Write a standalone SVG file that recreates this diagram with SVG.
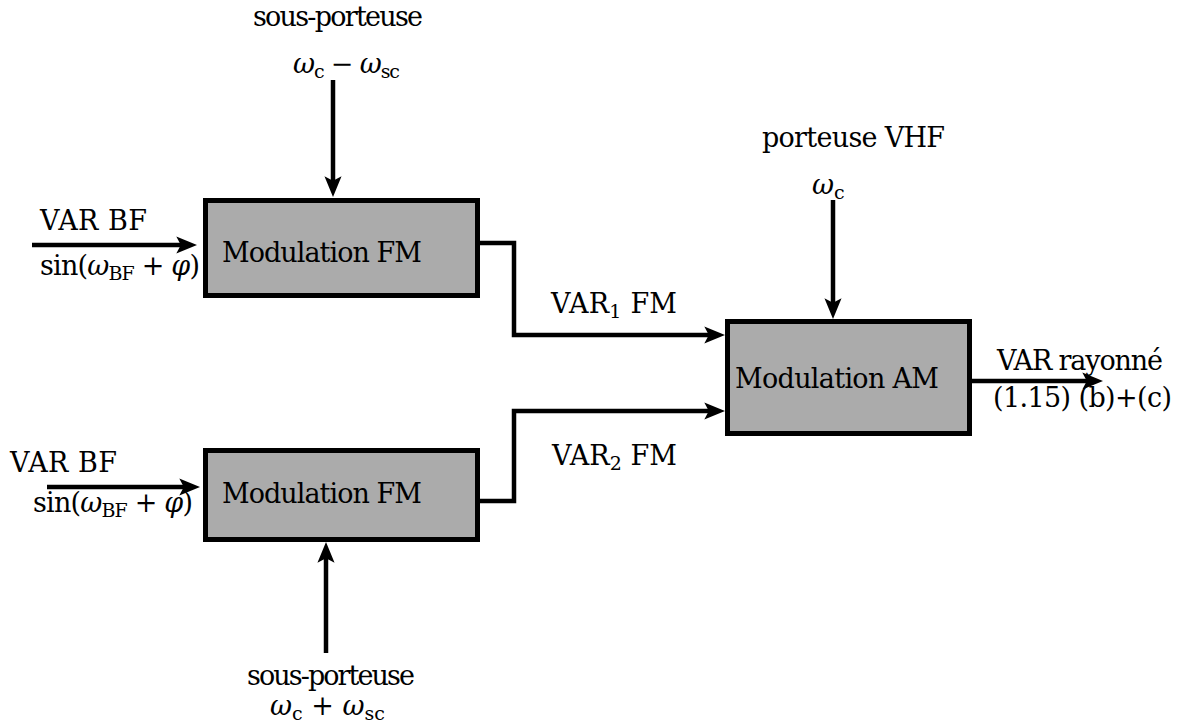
<svg xmlns="http://www.w3.org/2000/svg" width="1183" height="724" viewBox="0 0 1183 724">
<style>
.box{fill:#ababab;stroke:#000;stroke-width:5}
.wire{fill:none;stroke:#000;stroke-width:4.5;marker-end:url(#ah)}
.i{font-style:italic}
.s{font-size:19px}
</style>
<defs>
<marker id="ah" markerWidth="6" markerHeight="6" viewBox="-5.5 -3 6 6" refX="-2" refY="0" orient="auto" markerUnits="strokeWidth">
<path d="M0,0 L-4.6,-1.9 L-3.6,0 L-4.6,1.9 Z" fill="#000"/>
</marker>
</defs>
<rect width="1183" height="724" fill="#fff"/>
<g id="connectors">
<path class="wire" d="M32,245 H188"/>
<path class="wire" d="M47,487 H191"/>
<path class="wire" d="M333,80 V188"/>
<path class="wire" d="M326,653 V551"/>
<path class="wire" d="M480,243 H514 V335 H716"/>
<path class="wire" d="M480,501 H514 V411 H716"/>
<path class="wire" d="M833,200 V310"/>
<path class="wire" d="M972,381 H1094"/>
</g>
<g font-family="DejaVu Serif, serif" font-size="27" fill="#000">
<g id="fm1">
<rect class="box" x="205.5" y="200.5" width="272" height="95"/>
<text x="222" y="262" textLength="200">Modulation FM</text>
</g>
<g id="fm2">
<rect class="box" x="205.5" y="450.5" width="272" height="89"/>
<text x="222" y="503" textLength="200">Modulation FM</text>
</g>
<g id="am">
<rect class="box" x="727.5" y="321.5" width="242" height="112"/>
<text x="735" y="388" textLength="204">Modulation AM</text>
</g>
<g id="labels">
<text x="40" y="230" textLength="107">VAR BF</text>
<text x="40" y="275" textLength="160">sin(<tspan class="i">ω</tspan><tspan class="s" dy="5">BF</tspan><tspan dy="-5"> + </tspan><tspan class="i">φ</tspan>)</text>
<text x="10" y="472" textLength="107">VAR BF</text>
<text x="33" y="512" textLength="160">sin(<tspan class="i">ω</tspan><tspan class="s" dy="5">BF</tspan><tspan dy="-5"> + </tspan><tspan class="i">φ</tspan>)</text>
<text x="253" y="26" textLength="170">sous-porteuse</text>
<text x="293" y="73" textLength="107"><tspan class="i">ω</tspan><tspan class="s" dy="5">c</tspan><tspan dy="-5"> − </tspan><tspan class="i">ω</tspan><tspan class="s" dy="5">sc</tspan></text>
<text x="247" y="685" textLength="168">sous-porteuse</text>
<text x="270" y="715" textLength="115"><tspan class="i">ω</tspan><tspan class="s" dy="5">c</tspan><tspan dy="-5"> + </tspan><tspan class="i">ω</tspan><tspan class="s" dy="5">sc</tspan></text>
<text x="762" y="147" textLength="183">porteuse VHF</text>
<text x="812" y="194"><tspan class="i">ω</tspan><tspan class="s" dy="5">c</tspan></text>
<text x="551" y="313" textLength="126">VAR<tspan class="s" dy="5">1</tspan><tspan dy="-5"> FM</tspan></text>
<text x="552" y="465" textLength="125">VAR<tspan class="s" dy="5">2</tspan><tspan dy="-5"> FM</tspan></text>
<text x="997" y="370" textLength="166">VAR rayonné</text>
<text x="993" y="407" textLength="179">(1.15) (b)+(c)</text>
</g>
</g>
</svg>
